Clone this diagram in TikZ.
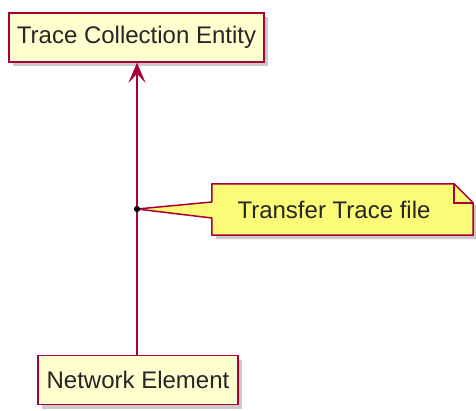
\documentclass[tikz,border=0pt]{standalone}
\usepackage{fontspec}
\setmainfont{Liberation Sans}
\usetikzlibrary{arrows.meta,calc,positioning,shadows}

\definecolor{umlborder}{HTML}{A80036}
\definecolor{umlfill}{HTML}{FEFECE}
\definecolor{notefill}{HTML}{FBFB77}

\begin{document}
\begin{tikzpicture}[
    x=1pt,
    y=-1pt,
    entity/.style={draw=umlborder, fill=umlfill, line width=1.5pt, inner sep=0pt, minimum height=49pt, font=\fontsize{24}{28}\selectfont, text=black!85, drop shadow={shadow xshift=4pt, shadow yshift=-4pt, fill=black!35, opacity=0.6}},
    notetext/.style={inner sep=0pt, minimum width=261pt, minimum height=51pt},
    dot/.style={circle, fill=black, inner sep=2.2pt},
    line/.style={-{Stealth[length=20pt, width=17pt, inset=9pt, line width=0.5pt]}, draw=umlborder, fill=umlborder, line width=1.5pt}
]
\useasboundingbox (0,0) rectangle (476,410);
\node[entity, minimum width=255pt] (tce) at (136.5,37.5) {Trace Collection Entity};
\node[entity, minimum width=200pt] (ne) at (138,380) {Network Element};
\coordinate (tail) at (137,209);
\node[notetext] (note) at (342.5,209.5) {};

\draw[line] (ne.north -| tail) -- (tce.south -| tail);

% note outline with its tail to the dot
\fill[black!35, opacity=0.6] ($(note.north west)+(4,4)$) -- ($(note.north east)+(-15,4)$) -- ($(note.north east)+(4,23)$) -- ($(note.south east)+(4,4)$) -- ($(note.south west)+(4,4)$) -- cycle;
\draw[umlborder, fill=notefill, line width=1.5pt, line join=round]
    (note.north west) -- ($(note.north east)+(-19,0)$) -- ($(note.north east)+(0,19)$)
    -- (note.south east) -- (note.south west) -- ($(note.west)+(0,8.5)$)
    -- (tail) -- ($(note.west)+(0,-7.5)$) -- cycle;
\draw[umlborder, line width=1.5pt] ($(note.north east)+(-19,0)$) |- ($(note.north east)+(0,19)$);
\node[font=\fontsize{24}{28}\selectfont, text=black!85] (notelabel) at (334,210) {Transfer Trace file};
\node[dot] (mid) at (tail) {};
\end{tikzpicture}
\end{document}
